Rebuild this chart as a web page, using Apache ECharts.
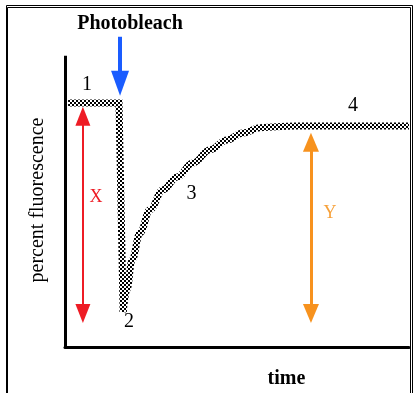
<!DOCTYPE html>
<html>
<head>
<meta charset="utf-8">
<script src="https://cdn.jsdelivr.net/npm/echarts@6/dist/echarts.min.js"></script>
<style>
html,body{margin:0;padding:0;background:#fff;}
#chart{width:417px;height:393px;}
</style>
</head>
<body>
<div id="chart"></div>
<script>
// ---- data (percent fluorescence vs time, arbitrary 0-100 units) ----
const bleachTime = [0.9, 15.7, 16.9];
const bleachValue = [83.8, 83.8, 12.0];
const recoveryTime = [16.9, 18.0, 19.5, 21.8, 24.7, 28.5, 32.6, 37.2, 42.2, 47.1, 51.7, 56.7, 61.6, 67.4, 100];
const recoveryValue = [12.0, 19.6, 29.9, 39.2, 47.1, 54.0, 58.4, 63.2, 67.7, 71.1, 73.5, 75.3, 75.6, 75.9, 75.9];
// annotation arrows: time position, start value, end value
const photobleachArrow = {t: 16.0, from: 106.5, to: 90.5};
const xArrow = {t: 5.2, from: 79.2, to: 11.5};
const yArrow = {t: 71.5, from: 70.3, to: 11.5};
const labels = {title: 'Photobleach', xName: 'time', yName: 'percent fluorescence', phases: ['1', '2', '3', '4'], x: 'X', y: 'Y'};

const chart = echarts.init(document.getElementById('chart'), null, {renderer: 'canvas'});

// checker texture for the curve
const tex = document.createElement('canvas');
tex.width = 4; tex.height = 4;
const tctx = tex.getContext('2d');
tctx.fillStyle = '#fff'; tctx.fillRect(0, 0, 4, 4);
tctx.fillStyle = '#000'; tctx.fillRect(0, 0, 2, 2); tctx.fillRect(2, 2, 2, 2);
const texPattern = {image: tex, repeat: 'repeat'};

const zip = (a, b) => a.map((v, i) => [v, b[i]]);
const serif = "'Liberation Serif', 'DejaVu Serif', serif";

function txt(text, x, y, size, color, weight, rotation) {
  return {
    type: 'text', x: x, y: y, rotation: rotation || 0,
    style: {text: text, font: (weight || 'normal') + ' ' + size + 'px ' + serif, fill: color || '#000', align: 'center', verticalAlign: 'middle'}
  };
}

const option = {
  animation: false,
  backgroundColor: '#fff',
  grid: {left: 65, right: 8, top: 12, bottom: 46},
  xAxis: {type: 'value', min: 0, max: 100, axisLine: {show: true, lineStyle: {color: '#000', width: 3}},
    axisTick: {show: false}, axisLabel: {show: false}, splitLine: {show: false}},
  yAxis: {type: 'value', min: 0, max: 115, axisLine: {show: false}, axisTick: {show: false}, axisLabel: {show: false}, splitLine: {show: false}},
  series: [
    {type: 'line', data: zip(bleachTime, bleachValue), showSymbol: false, symbol: 'none', clip: false,
      lineStyle: {width: 7, color: texPattern, cap: 'butt', join: 'miter'},
      markLine: {
        silent: true, animation: false, label: {show: false},
        data: [
          [{coord: [0, 0], symbol: 'none', lineStyle: {color: '#000', width: 3, type: 'solid'}}, {coord: [0, 100], symbol: 'none'}],
          [{coord: [photobleachArrow.t, photobleachArrow.from], symbol: 'none', lineStyle: {color: '#1a5cff', width: 4, type: 'solid'}},
           {coord: [photobleachArrow.t, photobleachArrow.to], symbol: 'triangle', symbolSize: [18, 25]}],
          [{coord: [xArrow.t, xArrow.from], symbol: 'triangle', symbolSize: [15, 19], lineStyle: {color: '#ee1c25', width: 2, type: 'solid'}},
           {coord: [xArrow.t, xArrow.to], symbol: 'triangle', symbolSize: [15, 19]}],
          [{coord: [yArrow.t, yArrow.from], symbol: 'triangle', symbolSize: [16, 19], lineStyle: {color: '#f7921e', width: 3, type: 'solid'}},
           {coord: [yArrow.t, yArrow.to], symbol: 'triangle', symbolSize: [16, 19]}]
        ]
      }
    },
    {type: 'line', data: zip(recoveryTime, recoveryValue), showSymbol: false, symbol: 'none', clip: false,
      smooth: 0.4, smoothMonotone: 'x',
      lineStyle: {width: 7, color: texPattern, cap: 'butt'}}
  ],
  graphic: [
    {type: 'rect', shape: {x: 6.5, y: 5.5, width: 406, height: 400}, style: {fill: 'none', stroke: '#000', lineWidth: 1}, z: 100},
    {type: 'rect', shape: {x: 7.5, y: 7.5, width: 403, height: 400}, style: {fill: 'none', stroke: '#000', lineWidth: 1}, z: 100},
    txt(labels.title, 130, 24, 20, '#000', 'bold'),
    txt(labels.phases[0], 87, 85, 20, '#000'),
    txt(labels.phases[1], 129, 322, 20, '#000'),
    txt(labels.phases[2], 191.5, 194, 20, '#000'),
    txt(labels.phases[3], 353, 106, 20, '#000'),
    txt(labels.x, 96, 197, 18, '#ee1c25'),
    txt(labels.y, 330, 213, 18, '#f7a13a'),
    txt(labels.xName, 286.5, 379, 20, '#000', 'bold'),
    txt(labels.yName, 38, 200, 20, '#000', 'normal', Math.PI / 2)
  ]
};
chart.setOption(option);
</script>
</body>
</html>
